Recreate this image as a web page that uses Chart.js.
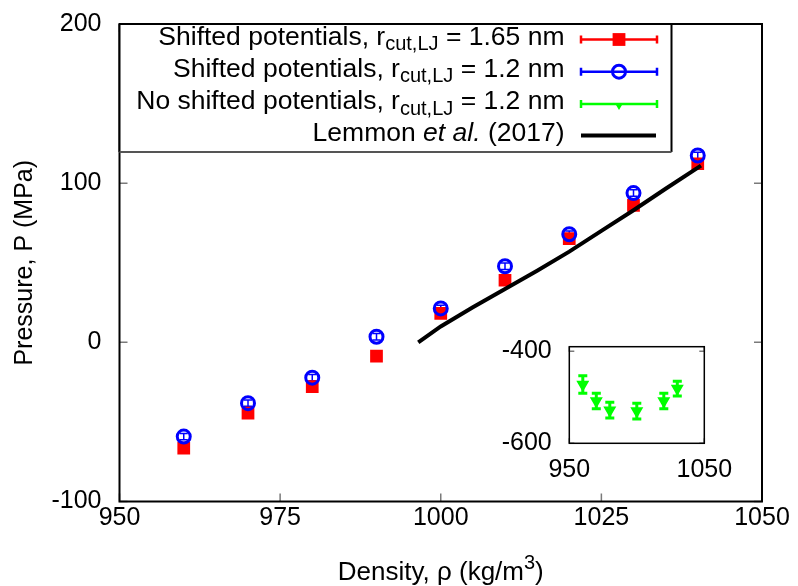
<!DOCTYPE html>
<html>
<head>
<meta charset="utf-8">
<script src="https://cdn.jsdelivr.net/npm/chart.js@4.4.1/dist/chart.umd.min.js"></script>
<style>
  html, body { margin: 0; padding: 0; background: #fff; }
  #wrap { position: relative; width: 798px; height: 586px; }
  #main { position: absolute; left: 0; top: 0; }
  #inset { position: absolute; left: 500px; top: 320px; }
</style>
</head>
<body>
<div id="wrap">
  <canvas id="main" width="798" height="586"></canvas>
  <canvas id="inset" width="240" height="170"></canvas>
</div>
<script>
// data
const density = [960, 970, 980, 990, 1000, 1010, 1020, 1030, 1040];
const pShifted165 = [-66.5, -44.5, -27.8, -8.6, 18.2, 39, 65.2, 86.1, 112.2];
const errShifted165 = [2, 2, 2, 2, 2, 2, 2, 2, 2];
const pShifted12 = [-59.2, -38.2, -22.2, 3.5, 21.3, 47.8, 67.9, 93.8, 117.4];
const errShifted12 = [2, 2, 2, 2, 2, 2, 2, 2, 2];

const densityNoShift = [960, 970, 980, 1000, 1020, 1030];
const pNoShift = [-472, -508, -528, -530, -508, -481];
const errNoShift = [19, 17, 17, 17, 17, 16];

const densityLemmon = [996.5, 1000, 1005, 1010, 1015, 1020, 1025, 1030, 1035, 1040.5];
const pLemmon = [0, 10, 22, 33.5, 45, 57, 70, 83, 96.5, 111];

const xTicks = [950, 975, 1000, 1025, 1050];
const yTicks = [-100, 0, 100, 200];
const insetXTicks = [950, 1050];
const insetYTicks = [-600, -400];

const FAMILY = "'Liberation Sans', Arial, Helvetica, sans-serif";
const FS = 25;
const LFS = 26.5; // legend text
const RED = '#ff0000', BLUE = '#0000ff', GREEN = '#00ff00';

function pts(xs, ys) {
  return xs.map((x, i) => ({ x, y: ys[i] }));
}

function fontStr(size, italic) {
  return `${italic ? 'italic ' : ''}${size}px ${FAMILY}`;
}

// vertical error bars drawn from the dataset's errors array through the y scale
const errorBars = {
  id: 'errorBars',
  beforeDatasetsDraw(chart, args, opts) {
    const ctx = chart.ctx;
    const ys = chart.scales.y;
    chart.data.datasets.forEach((ds, i) => {
      if (!ds.errors) return;
      const meta = chart.getDatasetMeta(i);
      ctx.save();
      ctx.strokeStyle = ds.borderColor;
      ctx.lineWidth = opts.width || 1.5;
      meta.data.forEach((el, j) => {
        const v = ds.data[j].y, e = ds.errors[j];
        const y1 = ys.getPixelForValue(v + e), y2 = ys.getPixelForValue(v - e);
        const c = opts.cap || 4;
        ctx.beginPath();
        ctx.moveTo(el.x, y1); ctx.lineTo(el.x, y2);
        ctx.moveTo(el.x - c, y1); ctx.lineTo(el.x + c, y1);
        ctx.moveTo(el.x - c, y2); ctx.lineTo(el.x + c, y2);
        ctx.stroke();
      });
      ctx.restore();
    });
  }
};

// box + inward ticks on all four sides
const frame = {
  id: 'frame',
  afterDatasetsDraw(chart, args, opts) {
    const ctx = chart.ctx, ca = chart.chartArea;
    const xs = chart.scales.x, ys = chart.scales.y;
    const len = opts.len || 8;
    ctx.save();
    ctx.strokeStyle = '#7a7a7a';
    ctx.lineWidth = 1.5;
    ctx.beginPath();
    opts.yTicks.forEach(v => {
      const p = ys.getPixelForValue(v);
      ctx.moveTo(ca.left, p); ctx.lineTo(ca.left + len, p);
      ctx.moveTo(ca.right, p); ctx.lineTo(ca.right - len, p);
    });
    opts.xTicks.forEach(v => {
      const p = xs.getPixelForValue(v);
      ctx.moveTo(p, ca.bottom); ctx.lineTo(p, ca.bottom - len);
      ctx.moveTo(p, ca.top); ctx.lineTo(p, ca.top + len);
    });
    ctx.stroke();
    ctx.strokeStyle = '#000';
    ctx.lineWidth = opts.border || 2;
    ctx.strokeRect(ca.left, ca.top, ca.right - ca.left, ca.bottom - ca.top);
    ctx.restore();
  }
};

function drawRich(ctx, parts, x, y, align, base) {
  let total = 0;
  parts.forEach(p => {
    ctx.font = fontStr(p.size || base, p.italic);
    p.w = ctx.measureText(p.t).width;
    total += p.w;
  });
  let cx = align === 'right' ? x - total : align === 'center' ? x - total / 2 : x;
  parts.forEach(p => {
    ctx.font = fontStr(p.size || base, p.italic);
    ctx.fillText(p.t, cx, y + (p.dy || 0));
    cx += p.w;
  });
}

const legendRows = [
  [{ t: 'Shifted potentials, r' }, { t: 'cut,LJ', size: 20, dy: 7 }, { t: ' = 1.65 nm' }],
  [{ t: 'Shifted potentials, r' }, { t: 'cut,LJ', size: 20, dy: 7 }, { t: ' = 1.2 nm' }],
  [{ t: 'No shifted potentials, r' }, { t: 'cut,LJ', size: 20, dy: 7 }, { t: ' = 1.2 nm' }],
  [{ t: 'Lemmon ' }, { t: 'et al.', italic: true }, { t: ' (2017)' }]
];

const legendBox = {
  id: 'legendBox',
  afterDraw(chart) {
    const ctx = chart.ctx, ca = chart.chartArea;
    const L = ca.left, T = ca.top, R = ca.left + 552, B = ca.top + 128;
    ctx.save();
    ctx.fillStyle = '#fff';
    ctx.fillRect(L, T, R - L, B - T);
    ctx.strokeStyle = '#000';
    ctx.lineWidth = 2;
    ctx.beginPath();
    ctx.moveTo(L, T); ctx.lineTo(ca.right, T);
    ctx.moveTo(R, T); ctx.lineTo(R, B);
    ctx.moveTo(L, T); ctx.lineTo(L, B);
    ctx.stroke();
    ctx.strokeStyle = '#555';
    ctx.beginPath();
    ctx.moveTo(L, B); ctx.lineTo(R, B);
    ctx.stroke();

    const rowY = [T + 15.5, T + 47.7, T + 80, T + 111.5];
    const xText = L + 445, x1 = L + 461.5, x2 = L + 537.5, xm = L + 499.5;
    ctx.fillStyle = '#000';
    ctx.textBaseline = 'middle';
    legendRows.forEach((row, i) => drawRich(ctx, row, xText, rowY[i] - 2, 'right', LFS));

    const colors = [RED, BLUE, GREEN];
    colors.forEach((c, i) => {
      const y = rowY[i];
      ctx.strokeStyle = c;
      ctx.lineWidth = 2.5;
      ctx.beginPath();
      ctx.moveTo(x1, y); ctx.lineTo(x2, y);
      ctx.moveTo(x1, y - 4); ctx.lineTo(x1, y + 4);
      ctx.moveTo(x2, y - 4); ctx.lineTo(x2, y + 4);
      ctx.stroke();
    });
    // markers
    ctx.fillStyle = RED;
    ctx.fillRect(xm - 6.4, rowY[0] - 6.4, 12.8, 12.8);
    ctx.strokeStyle = BLUE; ctx.lineWidth = 3;
    ctx.beginPath(); ctx.arc(xm, rowY[1], 6.5, 0, Math.PI * 2); ctx.stroke();
    ctx.fillStyle = GREEN;
    ctx.beginPath();
    ctx.moveTo(xm - 4.2, rowY[2] - 1); ctx.lineTo(xm + 4.2, rowY[2] - 1); ctx.lineTo(xm, rowY[2] + 6);
    ctx.closePath(); ctx.fill();
    ctx.strokeStyle = '#000'; ctx.lineWidth = 4;
    ctx.beginPath(); ctx.moveTo(x1, rowY[3]); ctx.lineTo(x2 - 1, rowY[3]); ctx.stroke();
    ctx.restore();
  }
};

const axisTitles = {
  id: 'axisTitles',
  afterDraw(chart) {
    const ctx = chart.ctx, ca = chart.chartArea;
    ctx.save();
    ctx.fillStyle = '#000';
    ctx.textBaseline = 'middle';
    drawRich(ctx, [{ t: 'Density, ρ (kg/m' }, { t: '3', size: 20, dy: -10 }, { t: ')' }],
      (ca.left + ca.right) / 2, 573, 'center', 26);
    ctx.translate(25, (ca.top + ca.bottom) / 2);
    ctx.rotate(-Math.PI / 2);
    ctx.textAlign = 'center';
    ctx.font = fontStr(FS);
    ctx.fillText('Pressure, P (MPa)', 0, 0);
    ctx.restore();
  }
};

Chart.defaults.font.family = FAMILY;
Chart.defaults.color = '#000';

function linScale(min, max, ticks, size, padding) {
  const vertical = size.width !== undefined;
  return {
    type: 'linear', min, max,
    afterBuildTicks: s => { s.ticks = ticks.map(v => ({ value: v })); },
    afterFit: s => {
      if (vertical) {
        s.width = size.width;
        s.paddingTop = 0; s.paddingBottom = 0;
      } else {
        s.height = size.height;
        s.paddingLeft = 0; s.paddingRight = 0;
      }
    },
    grid: { display: false, drawTicks: false },
    border: { display: false },
    ticks: {
      padding, color: '#000', font: { size: FS }, maxRotation: 0, autoSkip: false,
      callback: v => String(v)
    }
  };
}

new Chart(document.getElementById('main'), {
  type: 'scatter',
  data: {
    datasets: [
      { label: 'Lemmon et al. (2017)', data: pts(densityLemmon, pLemmon), showLine: true,
        borderColor: '#000', borderWidth: 4, pointRadius: 0, pointHitRadius: 0, order: 0 },
      { label: 'Shifted potentials, rcut,LJ = 1.2 nm', data: pts(density, pShifted12), errors: errShifted12,
        pointStyle: 'circle', pointRadius: 6.5, borderWidth: 3, borderColor: BLUE,
        backgroundColor: 'rgba(0,0,0,0)', order: 1 },
      { label: 'Shifted potentials, rcut,LJ = 1.65 nm', data: pts(density, pShifted165), errors: errShifted165,
        pointStyle: 'rect', pointRadius: 9, borderWidth: 0, borderColor: RED,
        backgroundColor: RED, order: 2 }
    ]
  },
  options: {
    responsive: false,
    animation: false,
    layout: { padding: { left: 0, right: 36, top: 24, bottom: 0 } },
    plugins: {
      legend: { display: false },
      tooltip: { enabled: false },
      errorBars: { width: 1.5, cap: 4 },
      frame: { xTicks, yTicks, len: 8, border: 2 }
    },
    scales: {
      x: linScale(950, 1050, xTicks, { height: 84.5 }, 2),
      y: linScale(-100, 200, yTicks, { width: 119.5 }, 18)
    }
  },
  plugins: [errorBars, frame, legendBox, axisTitles]
});

new Chart(document.getElementById('inset'), {
  type: 'scatter',
  data: {
    datasets: [
      { label: 'No shifted potentials, rcut,LJ = 1.2 nm', data: pts(densityNoShift, pNoShift), errors: errNoShift,
        pointStyle: 'triangle', rotation: 180, pointRadius: 5.5, borderWidth: 2,
        borderColor: GREEN, backgroundColor: GREEN }
    ]
  },
  options: {
    responsive: false,
    animation: false,
    layout: { padding: { left: 0, right: 35.7, top: 26.7, bottom: 0 } },
    plugins: {
      legend: { display: false },
      tooltip: { enabled: false },
      errorBars: { width: 3, cap: 4.5 },
      frame: { xTicks: insetXTicks, yTicks: insetYTicks, len: 5, border: 1.5 }
    },
    scales: {
      x: linScale(950, 1050, insetXTicks, { height: 46.7 }, 12.3),
      y: linScale(-600, -390, insetYTicks, { width: 69.3 }, 17.6)
    }
  },
  plugins: [errorBars, frame]
});
</script>
</body>
</html>
